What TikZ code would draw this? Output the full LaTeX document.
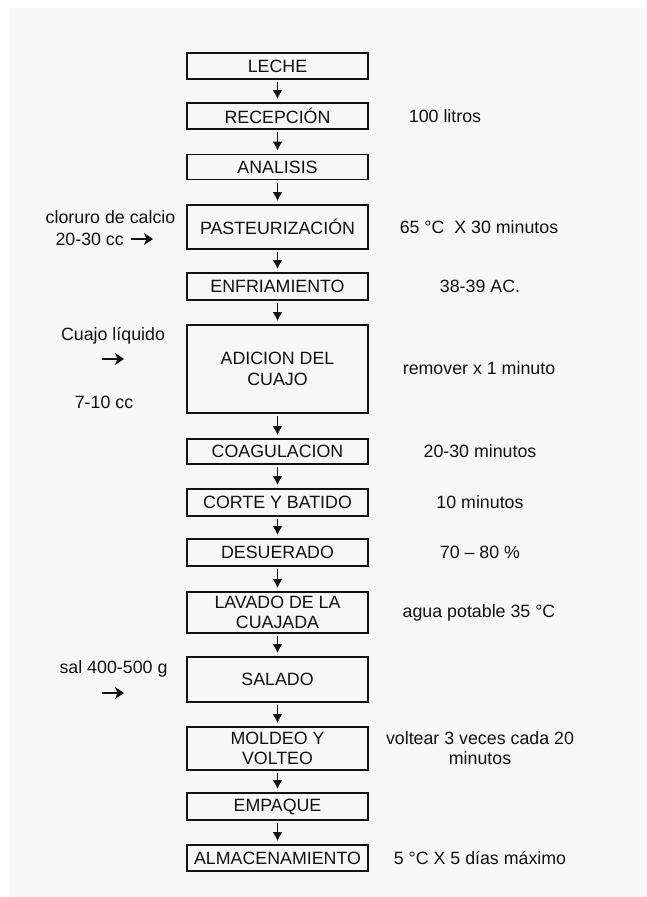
\documentclass[tikz,border=0pt]{standalone}
\usepackage{fontspec}
\setmainfont{Liberation Sans}
\usetikzlibrary{arrows.meta}
\definecolor{bg}{HTML}{F7F7F7}
\definecolor{ink}{HTML}{111111}
\tikzset{
  stepbox/.style={draw=ink, line width=1.7pt, minimum width=181pt, inner sep=0pt, align=center, text=ink},
  note/.style={inner sep=0pt, align=center, text=ink},
  flow/.style={draw=ink, line width=1.8pt, shorten <=2.5pt, shorten >=3pt, -{Latex[length=9pt,width=10pt]}},
  feed/.style={draw=ink, line width=2.6pt, -{Stealth[length=9pt,width=12pt,inset=2.5pt]}}
}
\begin{document}
\begin{tikzpicture}[x=1pt,y=-1pt,font=\fontsize{17.8}{20.5}\selectfont]
\useasboundingbox (0,0) rectangle (646,897);
\fill[bg] (9,8) rectangle (646,897);
% boxes
\node[stepbox, minimum height=26pt] (leche) at (277.5,66) {LECHE};
\node[stepbox, minimum height=26pt] (recep) at (277.5,116) {RECEPCIÓN};
\node[stepbox, minimum height=25pt] (anal) at (277.5,167) {ANALISIS};
\node[stepbox, minimum height=44pt] (past) at (277.5,227) {PASTEURIZACIÓN};
\node[stepbox, minimum height=27pt] (enfr) at (277.5,286.5) {ENFRIAMIENTO};
\node[stepbox, minimum height=88pt] (adic) at (277.5,369) {ADICION DEL\\CUAJO};
\node[stepbox, minimum height=25pt] (coag) at (277.5,451.5) {COAGULACION};
\node[stepbox, minimum height=27pt] (corte) at (277.5,502.5) {CORTE Y BATIDO};
\node[stepbox, minimum height=27pt] (desu) at (277.5,552.5) {DESUERADO};
\node[stepbox, minimum height=41pt] (lava) at (277.5,612.5) {LAVADO DE LA\\CUAJADA};
\node[stepbox, minimum height=45pt] (sala) at (277.5,679.5) {SALADO};
\node[stepbox, minimum height=43pt] (mold) at (277.5,748.5) {MOLDEO Y\\VOLTEO};
\node[stepbox, minimum height=27pt] (empa) at (277.5,806.5) {EMPAQUE};
\node[stepbox, minimum height=26pt] (alma) at (277.5,858) {ALMACENAMIENTO};
% flow arrows
\draw[flow] (leche) -- (recep);
\draw[flow] (recep) -- (anal);
\draw[flow] (anal) -- (past);
\draw[flow] (past) -- (enfr);
\draw[flow] (enfr) -- (adic);
\draw[flow] (adic) -- (coag);
\draw[flow] (coag) -- (corte);
\draw[flow] (corte) -- (desu);
\draw[flow] (desu) -- (lava);
\draw[flow] (lava) -- (sala);
\draw[flow] (sala) -- (mold);
\draw[flow] (mold) -- (empa);
\draw[flow] (empa) -- (alma);
% right notes
\node[note] (n1) at (445,116) {100 litros};
\node[note] (n2) at (479,227) {65 °C\ \ X 30 minutos};
\node[note] (n3) at (480,286.5) {38-39 AC.};
\node[note] (n4) at (479,368) {remover x 1 minuto};
\node[note] (n5) at (480,451.5) {20-30 minutos};
\node[note] (n6) at (480,502.5) {10 minutos};
\node[note] (n7) at (480,552.5) {70 – 80 \%};
\node[note] (n8) at (479,613) {agua potable 35 °C};
\node[note] (n9) at (480,748) {voltear 3 veces cada 20\\minutos};
\node[note] (n10) at (480,858) {5 °C X 5 días máximo};
% left notes
\node[note] (l1) at (110.5,217) {cloruro de calcio};
\node[note, anchor=east] (l2) at (124,239) {20-30 cc};
\coordinate (a1s) at (131,239);
\coordinate (a1e) at (153,239);
\draw[feed] (a1s) -- (a1e);
\node[note] (l3) at (113,336) {Cuajo líquido};
\coordinate (a2s) at (102,359);
\coordinate (a2e) at (124,359);
\draw[feed] (a2s) -- (a2e);
\node[note] (l4) at (104,402) {7-10 cc};
\node[note] (l5) at (113.5,669) {sal 400-500 g};
\coordinate (a3s) at (102,693);
\coordinate (a3e) at (124,693);
\draw[feed] (a3s) -- (a3e);
\end{tikzpicture}
\end{document}
